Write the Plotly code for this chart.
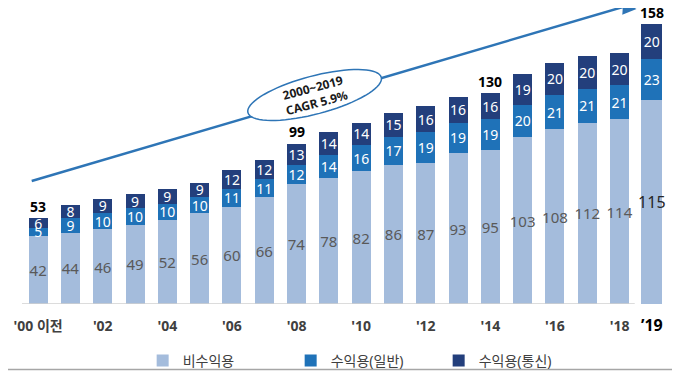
import numpy as np
import plotly.graph_objects as go

categories = ["'00 이전", "'01", "'02", "'03", "'04", "'05", "'06", "'07", "'08", "'09",
              "'10", "'11", "'12", "'13", "'14", "'15", "'16", "'17", "'18", "’19"]
non_profit = [42, 44, 46, 49, 52, 56, 60, 66, 74, 78, 82, 86, 87, 93, 95, 103, 108, 112, 114, 115]
profit_general = [5, 9, 10, 10, 10, 10, 11, 11, 12, 14, 16, 17, 19, 19, 19, 20, 21, 21, 21, 23]
profit_telecom = [6, 8, 9, 9, 9, 9, 12, 12, 13, 14, 14, 15, 16, 16, 16, 19, 20, 20, 20, 20]
series_names = ["비수익용", "수익용(일반)", "수익용(통신)"]
total_label_idx = [0, 8, 14, 19]
tick_idx = [0, 2, 4, 6, 8, 10, 12, 14, 16, 18, 19]
cagr_text = "2000~2019<br>CAGR 5.9%"

colors = ["#a4bcdc", "#1f72b8", "#233f7c"]
text_colors = ["#595959", "#ffffff", "#ffffff"]
text_sizes = [15, 14, 14]
FONT = "Noto Sans, Noto Sans CJK KR, sans-serif"

# page body has an 8px margin; work in screen pixels and convert
OFF = 8
W, H = 680 - OFF, 371 - OFF
PLOT_L, PLOT_R, PLOT_T, BASE = 22.3, 668.5, 10, 304   # screen pixels
ML, MR, MT, MB = PLOT_L - OFF, 680 - PLOT_R, PLOT_T - OFF, 371 - BASE
PW, PH = PLOT_R - PLOT_L, BASE - PLOT_T


def px(x):
    return (x - PLOT_L) / PW


def py(y):
    return (BASE - y) / PH


fig = go.Figure()
data = [non_profit, profit_general, profit_telecom]
n = len(categories)
for s in range(3):
    vals = data[s]
    fig.add_trace(go.Bar(
        x=categories[:n - 1], y=vals[:n - 1], name=series_names[s],
        marker=dict(color=colors[s], line=dict(width=0)),
        width=0.59, text=vals[:n - 1], texttemplate="%{text}",
        textposition="inside", insidetextanchor="middle", textangle=0,
        constraintext="none",
        textfont=dict(color=text_colors[s], size=text_sizes[s], family=FONT),
        yaxis="y", hoverinfo="skip", legendgroup=series_names[s]))
for s in range(3):
    vals = data[s]
    fig.add_trace(go.Bar(
        x=categories[n - 1:], y=vals[n - 1:], name=series_names[s],
        marker=dict(color=colors[s], line=dict(width=0)),
        width=0.65, text=vals[n - 1:], texttemplate="%{text}",
        textposition="inside", insidetextanchor="middle", textangle=0,
        constraintext="none",
        textfont=dict(color="#262626" if s == 0 else text_colors[s], size=text_sizes[s] + (1 if s == 0 else 0), family=FONT),
        yaxis="y2", hoverinfo="skip", showlegend=False, legendgroup=series_names[s]))

totals = [a + b + c for a, b, c in zip(non_profit, profit_general, profit_telecom)]
annotations = []
for i in total_label_idx:
    annotations.append(dict(
        x=categories[i], y=totals[i], xref="x", yref="y2" if i == n - 1 else "y",
        text=f"<b>{totals[i]}</b>", showarrow=False, yshift=12,
        xanchor="center", yanchor="middle",
        font=dict(size=14, color="#000000", family=FONT)))

# arrow head
tip = (637, 3)
start = (32, 181)
dx, dy = tip[0] - start[0], tip[1] - start[1]
L = np.hypot(dx, dy)
ux, uy = dx / L, dy / L
annotations.append(dict(
    x=px(tip[0]), y=py(tip[1]), xref="paper", yref="paper",
    ax=-ux * 14, ay=-uy * 14, axref="pixel", ayref="pixel",
    text="", showarrow=True, arrowhead=2, arrowsize=1.1, arrowwidth=2.5,
    arrowcolor="#2e75b6"))
annotations.append(dict(
    x=px(315), y=py(95), xref="paper", yref="paper", text=f"<b>{cagr_text}</b>",
    xanchor="center", yanchor="middle",
    showarrow=False, textangle=-15, font=dict(size=12, color="#1a1a1a", family=FONT)))

shapes = []
# arrow line
shapes.append(dict(type="line", xref="paper", yref="paper",
                   x0=px(start[0]), y0=py(start[1]), x1=px(tip[0] - ux * 6), y1=py(tip[1] - uy * 6),
                   line=dict(color="#2e75b6", width=2.5), layer="above"))
# rotated ellipse
cx, cy, a, b = 315, 95, 69, 19
ang = np.deg2rad(-14.8)
t = np.linspace(0, 2 * np.pi, 73)
ex = cx + a * np.cos(t) * np.cos(ang) - b * np.sin(t) * np.sin(ang)
ey = cy + a * np.cos(t) * np.sin(ang) + b * np.sin(t) * np.cos(ang)
path = "M " + " L ".join(f"{px(x_):.5f},{py(y_):.5f}" for x_, y_ in zip(ex, ey)) + " Z"
shapes.append(dict(type="path", xref="paper", yref="paper", path=path,
                   fillcolor="#ffffff", line=dict(color="#2e75b6", width=1.5), layer="above"))
# baseline
shapes.append(dict(type="line", xref="x", yref="y", x0=-0.5, x1=18.47, y0=0, y1=0,
                   line=dict(color="#d0d0d0", width=1.5), layer="above"))
# bottom border
shapes.append(dict(type="line", xref="paper", yref="paper", x0=px(OFF), x1=px(680), y0=py(369.5), y1=py(369.5),
                   line=dict(color="#a6a6a6", width=1.5)))

ticktext = []
for i in tick_idx:
    if i == n - 1:
        ticktext.append(f"<span style='font-size:16px;color:#000000'><b>{categories[i]}</b></span>")
    else:
        ticktext.append(f"<b>{categories[i]}</b>")

fig.update_layout(
    width=W, height=H, barmode="stack",
    margin=dict(l=ML, r=MR, t=MT, b=MB, autoexpand=False),
    paper_bgcolor="white", plot_bgcolor="white",
    font=dict(family=FONT),
    xaxis=dict(type="category", categoryorder="array", categoryarray=categories,
               range=[-0.5, n - 0.5], showgrid=False, showline=False, zeroline=False,
               tickmode="array", tickvals=[categories[i] for i in tick_idx], ticktext=ticktext,
               tickfont=dict(size=14, color="#404040", family=FONT), ticks="", ticklabelstandoff=12,
               automargin=False),
    yaxis=dict(range=[0, PH / 1.62], visible=False),
    yaxis2=dict(range=[0, PH / 1.772], visible=False, overlaying="y"),
    legend=dict(orientation="h", x=px(143), xanchor="left", y=py(361), yanchor="middle",
                entrywidth=103, entrywidthmode="pixels", itemwidth=30,
                font=dict(size=14, color="#404040", family=FONT), bgcolor="rgba(0,0,0,0)"),
    annotations=annotations, shapes=shapes, showlegend=True,
)

fig.write_html("out.html")
